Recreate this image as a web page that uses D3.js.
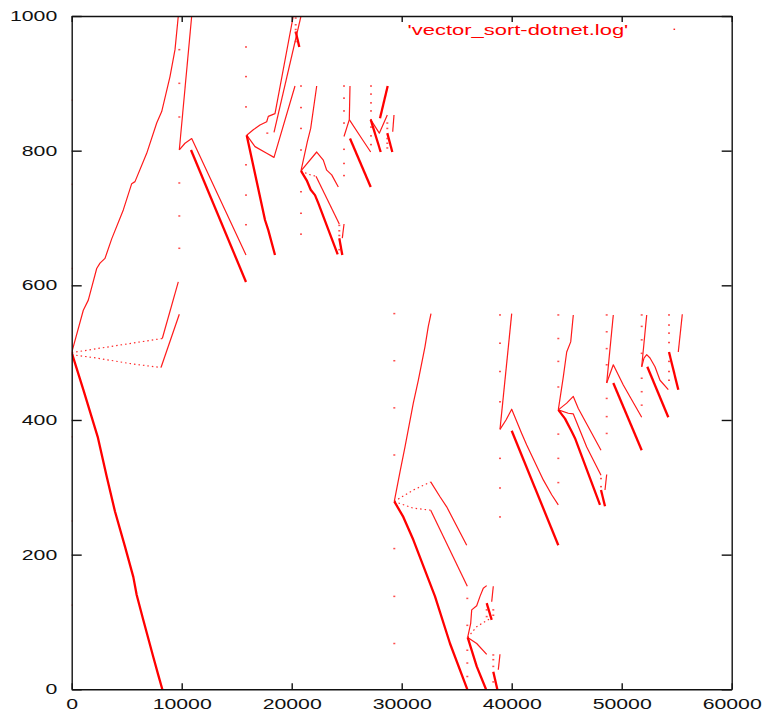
<!DOCTYPE html>
<html>
<head>
<meta charset="utf-8">
<title>vector_sort-dotnet.log</title>
<script src="https://cdn.jsdelivr.net/npm/d3@7"></script>
<style type="text/css">
	body { margin: 0; background: #fff; }
	.tick text, .legend { font-family: "Liberation Sans", Arial, sans-serif; font-size: 14px; }
	.thin { fill: none; stroke: #ff1a1a; stroke-width: 1.2px; stroke-linejoin: round; }
	.thick { fill: none; stroke: #ff0000; stroke-width: 2.3px; stroke-linejoin: round; }
	.dotted { fill: none; stroke: #ff2a2a; stroke-width: 1.2px; stroke-dasharray: 1.5,3; }
</style>
</head>
<body>
<script type="text/javascript">

var width = 763,
    height = 715;

// axis ticks
var xTicks = [0, 10000, 20000, 30000, 40000, 50000, 60000];
var yTicks = [0, 200, 400, 600, 800, 1000];
var legendLabel = "'vector_sort-dotnet.log'";

// runs of densely packed points
var thickRuns = [
	[[0,500],[1055,445],[2364,375],[3182,316],[3936,264],[4845,212],[5600,167],[5909,140],[6509,103],[7418,48],[7873,21],[8236,0]],
	[[10845,801],[15845,605]],
	[[15909,823],[17573,697],[17873,682],[18482,645]],
	[[20364,977],[20691,954]],
	[[20845,770],[21364,756],[21727,742],[22118,734],[22418,722],[24182,646]],
	[[24327,670],[24600,645]],
	[[25300,818],[27182,746]],
	[[28727,896],[28027,848]],
	[[27182,846],[28091,798]],
	[[28691,826],[29146,798]],
	[[29327,279],[30145,256],[31055,222],[33027,138],[34391,68],[35964,0]],
	[[35997,77],[36818,34],[37664,0]],
	[[37727,128],[38182,103]],
	[[38327,26],[38691,0]],
	[[40000,384],[44236,214]],
	[[44237,415],[44845,402],[45455,383],[45755,373],[48027,274]],
	[[48118,296],[48482,272]],
	[[49236,455],[51818,355]],
	[[52327,479],[54236,404]],
	[[54300,501],[55145,445]]
];

var thinRuns = [
	[[0,500],[1055,563],[1509,578],[2273,625],[2573,633],[3027,640],[3636,669],[4691,712],[5455,751],[5755,754],[6818,796],[7727,841],[8182,858],[8936,910],[9391,950],[9691,1000]],
	[[8236,521],[9691,605]],
	[[8118,478],[9782,557]],
	[[9782,801],[10909,1000]],
	[[9782,801],[10300,811],[10909,818],[15845,645]],
	[[15909,823],[16664,806],[17727,796],[18391,790],[20300,896]],
	[[15909,823],[16509,831],[17118,838],[17727,843],[17873,851],[18482,855],[20145,1000]],
	[[18391,827],[20845,1000]],
	[[20845,770],[21418,813],[21727,833],[22273,896]],
	[[20845,770],[22273,798],[22873,786],[23182,771],[23637,764],[24237,746]],
	[[22209,762],[24327,691]],
	[[24755,691],[24600,670]],
	[[24755,821],[25237,846],[25300,896]],
	[[25237,846],[26364,818],[27182,798]],
	[[27182,846],[27964,826],[28691,853]],
	[[29300,853],[29182,828]],
	[[29327,279],[29845,323],[30300,360],[31055,425],[31509,459],[32118,509],[32418,539],[32664,558]],
	[[32636,308],[33482,286],[34091,271],[35909,214]],
	[[32636,266],[35964,153]],
	[[35997,77],[36273,98],[36364,118],[36818,124],[37118,138],[37418,150],[37727,154]],
	[[38327,153],[38182,130]],
	[[35997,77],[36818,68],[37727,52]],
	[[38936,52],[38782,29]],
	[[38936,386],[40000,558]],
	[[38936,386],[39482,400],[40000,416],[40909,380],[41364,363],[42873,311],[43636,289],[44236,274]],
	[[44237,415],[44691,464],[45000,501],[45364,516],[45600,556]],
	[[44237,415],[45000,425],[45600,435],[46055,417],[47118,385],[48118,355]],
	[[44237,415],[45145,410],[45600,409],[46818,360],[48118,318]],
	[[48636,319],[48482,296]],
	[[48636,455],[49236,556]],
	[[48636,455],[49236,482],[50145,452],[50909,430],[51818,404]],
	[[51818,479],[52273,556]],
	[[51818,479],[52027,492],[52273,497],[52573,492],[53027,479],[53482,459],[54236,445]],
	[[55145,501],[55509,557]]
];

var sparseRuns = [
	[[0,500],[3491,509],[8236,521]],
	[[0,497],[2273,492],[5600,483],[8118,478]],
	[[20845,770],[21509,765],[22209,762]],
	[[29327,279],[31055,296],[32636,308]],
	[[29327,279],[31055,269],[32636,266]],
	[[35997,77],[36818,93],[38027,105]]
];

// isolated points, grouped by x
var pointColumns = [
	[0, [125,250,375,625,750,875]],
	[9782, [655,703,752,850,900,950]],
	[15845, [690,734,779,865,910,954,1000]],
	[17782, [826]],
	[20364, [962,975,980,987,997]],
	[20845, [676,707,739,801,833,864,896]],
	[24327, [653,674,681,689]],
	[24755, [763,781,802,841,859,878,896]],
	[27209, [809,822,835,846,859,871,884,896]],
	[28691, [804,811,818,833,841]],
	[29327, [68,138,209,348,418,488,558]],
	[35964, [19,39,58,95,135]],
	[37727, [108,118]],
	[38327, [11,34,44,51,110,118]],
	[38936, [256,299,343,427,472,514,556]],
	[44237, [307,343,379,449,487,521,556]],
	[48118, [301,313]],
	[48636, [380,405,432,482,506,531,556]],
	[51818, [422,442,462,499,519,539,556]],
	[54300, [459,472,487,515,529,541,556]]
];

var x = d3.scaleLinear().domain([0, 60000]).range([71.7, 731.7]);
var y = d3.scaleLinear().domain([0, 1000]).range([689.3, 16]);

var svg = d3.select("body").append("svg").attr("width", width).attr("height", height);

svg.append("clipPath").attr("id", "plot")
	.append("rect").attr("x", x(0)).attr("y", y(1000))
	.attr("width", x(60000) - x(0)).attr("height", y(0) - y(1000));

var line = d3.line().x(function(d) { return x(d[0]); }).y(function(d) { return y(d[1]); });
var marks = svg.append("g").attr("clip-path", "url(#plot)");

marks.selectAll("path.dotted").data(sparseRuns).enter()
	.append("path").attr("class", "dotted").attr("d", line);
marks.selectAll("path.thin").data(thinRuns).enter()
	.append("path").attr("class", "thin").attr("d", line);
marks.selectAll("path.thick").data(thickRuns).enter()
	.append("path").attr("class", "thick").attr("d", line);

var pts = [];
pointColumns.forEach(function(c) {
	c[1].forEach(function(v) { pts.push([c[0], v]); });
});
marks.selectAll("rect.pt").data(pts).enter()
	.append("rect").attr("class", "pt")
	.attr("x", function(d) { return x(d[0]) - 1; })
	.attr("y", function(d) { return y(d[1]) - 0.75; })
	.attr("width", 2).attr("height", 1.5)
	.attr("fill", "#ff2020").attr("opacity", 0.8);

// axes, ticks pointing inwards on all four sides
var sx = 1.52;
svg.append("g").attr("transform", "translate(0," + y(0) + ")")
	.call(d3.axisBottom(x).tickValues(xTicks).tickFormat(d3.format("d")).tickSizeInner(-6).tickSizeOuter(0).tickPadding(10));
svg.append("g").attr("transform", "translate(" + x(0) + ",0)")
	.call(d3.axisLeft(y).tickValues(yTicks).tickFormat(d3.format("d")).tickSizeInner(-10).tickSizeOuter(0).tickPadding(9.5));
svg.append("g").attr("transform", "translate(0," + y(1000) + ")")
	.call(d3.axisTop(x).tickValues(xTicks).tickFormat("").tickSizeInner(-6).tickSizeOuter(0));
svg.append("g").attr("transform", "translate(" + x(60000) + ",0)")
	.call(d3.axisRight(y).tickValues(yTicks).tickFormat("").tickSizeInner(-10).tickSizeOuter(0));

svg.selectAll(".tick text").attr("fill", "#111").attr("transform", "scale(" + sx + ",1)");
svg.selectAll(".domain, .tick line").attr("stroke", "#111").attr("stroke-width", 1.4);

// key
svg.append("text").attr("class", "legend")
	.attr("transform", "translate(628.3,34.5) scale(1.57,1)")
	.attr("text-anchor", "end").attr("fill", "#ff0000")
	.text(legendLabel);
svg.append("rect").attr("x", 673.5).attr("y", 28.6).attr("width", 1.6).attr("height", 1.4).attr("fill", "#ff2020");

</script>
</body>
</html>
